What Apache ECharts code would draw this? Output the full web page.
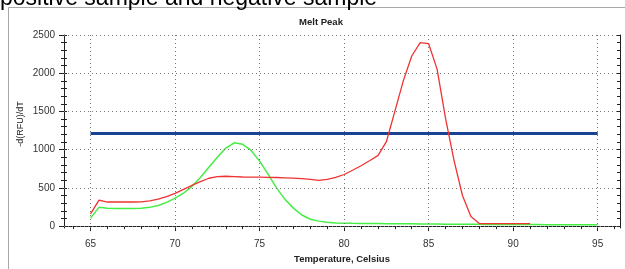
<!DOCTYPE html>
<html>
<head>
<meta charset="utf-8">
<script src="https://cdn.jsdelivr.net/npm/echarts@6/dist/echarts.min.js"></script>
<style>
html,body{margin:0;padding:0;background:#fff;}
#c{width:625px;height:269px;}
</style>
</head>
<body>
<div id="c"></div>
<script>
var temps = [65,65.5,66,66.5,67,67.5,68,68.5,69,69.5,70,70.5,71,71.5,72,72.5,73,73.5,74,74.5,75,75.5,76,76.5,77,77.5,78,78.5,79,79.5,80,80.5,81,81.5,82,82.5,83,83.5,84,84.5,85,85.5,86,86.5,87,87.5,88,88.5,89,89.5,90,90.5,91,91.5,92,92.5,93,93.5,94,94.5,95];
var positiveValues = [160,340,315,315,315,315,318,330,352,385,428,480,532,582,626,648,652,648,642,640,640,638,636,632,628,622,612,598,610,636,675,730,790,855,922,1104,1500,1900,2225,2400,2386,2053,1410,860,400,125,34,32,32,31,31,31,31];
var negativeValues = [105,245,232,230,230,230,232,245,270,310,365,430,520,635,770,900,1020,1090,1070,990,850,680,500,350,235,145,90,65,50,42,38,36,35,34,33,32,32,31,30,28,27,26,25,24,24,23,23,22,22,21,21,20,20,20,19,19,19,18,18,18,18];
var thresholdX = [65,95];
var thresholdY = [1210,1210];
var xTickLabels = [65,70,75,80,85,90,95];
var yTickLabels = [0,500,1000,1500,2000,2500];
var xMinorTicks = [64,65,66,67,68,69,70,71,72,73,74,75,76,77,78,79,80,81,82,83,84,85,86,87,88,89,90,91,92,93,94,95,96];
var yMinorTicks = [0,100,200,300,400,500,600,700,800,900,1000,1100,1200,1300,1400,1500,1600,1700,1800,1900,2000,2100,2200,2300,2400,2500];

function pairs(xs, ys){ var out=[]; for(var i=0;i<ys.length;i++){ out.push([xs[i], ys[i]]); } return out; }

var XMIN = 63.43, XMAX = 96.32, YMIN = -25, YMAX = 2500;
var FONT = 'Liberation Sans, Arial, sans-serif';
var axisCol = '#222';
function plain(v){ return String(v); }

function xAx(extra){
  var base = {type:'value', min:XMIN, max:XMAX, splitLine:{show:false}, axisLine:{show:false}, axisTick:{show:false}, axisLabel:{show:false}};
  for (var k in extra) base[k]=extra[k];
  return base;
}
function yAx(extra){
  var base = {type:'value', min:YMIN, max:YMAX, splitLine:{show:false}, axisLine:{show:false}, axisTick:{show:false}, axisLabel:{show:false}};
  for (var k in extra) base[k]=extra[k];
  return base;
}

var gridMarks = [];
xTickLabels.forEach(function(v){ gridMarks.push({xAxis:v}); });
yTickLabels.forEach(function(v){ gridMarks.push({yAxis:v}); });

var chart = echarts.init(document.getElementById('c'), null, {renderer:'canvas'});
chart.setOption({
  animation:false,
  backgroundColor:'#ffffff',
  textStyle:{fontFamily:FONT},
  grid:{left:64, right:5, top:35, bottom:35},
  graphic:[
    {type:'rect', shape:{x:8.5, y:7.5, width:700, height:300}, style:{fill:'none', stroke:'#a8a8a8', lineWidth:1}, z:-1},
    {type:'text', x:0, y:10, style:{text:'positive sample and negative sample', font:'23px ' + FONT, fill:'#000', textVerticalAlign:'bottom', textAlign:'left'}},
    {type:'text', x:321, y:22, style:{text:'Melt Peak', font:'bold 9.5px ' + FONT, fill:'#222', textAlign:'center', textVerticalAlign:'middle'}},
    {type:'text', x:21, y:124, rotation:Math.PI/2, style:{text:'-d(RFU)/dT', font:'9px ' + FONT, fill:'#222', textAlign:'center', textVerticalAlign:'middle'}}
  ],
  xAxis:[
    xAx({position:'bottom', axisLine:{show:true, lineStyle:{color:axisCol, width:1}},
      axisTick:{show:true, length:5, customValues:xTickLabels, lineStyle:{color:axisCol}},
      axisLabel:{show:true, customValues:xTickLabels, formatter:plain, margin:11, fontSize:10, color:'#333', fontFamily:FONT},
      name:'Temperature, Celsius', nameLocation:'middle', nameGap:26,
      nameTextStyle:{fontSize:9.5, fontWeight:'bold', color:'#222', fontFamily:FONT}}),
    xAx({position:'bottom', axisTick:{show:true, length:3, customValues:xMinorTicks, lineStyle:{color:axisCol}}}),
    xAx({position:'top', axisLine:{show:true, lineStyle:{color:axisCol, width:1}},
      axisTick:{show:true, inside:true, length:3, customValues:xMinorTicks, lineStyle:{color:axisCol}}})
  ],
  yAxis:[
    yAx({position:'left', axisLine:{show:true, lineStyle:{color:axisCol, width:1}},
      axisTick:{show:true, length:5, customValues:yTickLabels, lineStyle:{color:axisCol}},
      axisLabel:{show:true, customValues:yTickLabels, formatter:plain, margin:9, fontSize:10, color:'#333', fontFamily:FONT}}),
    yAx({position:'left', axisTick:{show:true, length:3, customValues:yMinorTicks, lineStyle:{color:axisCol}}}),
    yAx({position:'left', axisTick:{show:true, inside:true, length:3, customValues:yMinorTicks, lineStyle:{color:axisCol}}}),
    yAx({position:'right', axisLine:{show:true, lineStyle:{color:axisCol, width:1}},
      axisTick:{show:true, inside:true, length:3, customValues:yMinorTicks, lineStyle:{color:axisCol}}})
  ],
  series:[
    {type:'line', name:'grid', data:[], silent:true, z:1,
      markLine:{silent:true, symbol:['none','none'], label:{show:false}, animation:false,
        lineStyle:{type:[1,3], color:'#777', width:1}, emphasis:{disabled:true}, data:gridMarks}},
    {type:'line', name:'threshold', data:pairs(thresholdX, thresholdY), showSymbol:false, symbol:'none', z:3,
      lineStyle:{color:'#1b4394', width:3}},
    {type:'line', name:'negative', data:pairs(temps, negativeValues), showSymbol:false, symbol:'none', z:4,
      lineStyle:{color:'#45ee45', width:1.5}},
    {type:'line', name:'positive', data:pairs(temps, positiveValues), showSymbol:false, symbol:'none', z:5,
      lineStyle:{color:'#f03232', width:1.3}}
  ]
});
</script>
</body>
</html>
